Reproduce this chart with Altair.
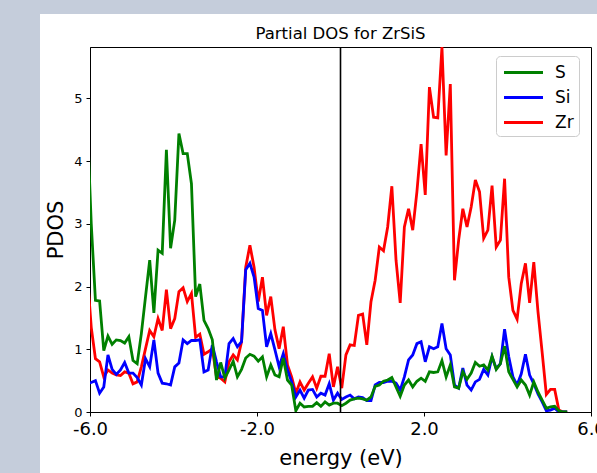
import altair as alt
import pandas as pd

# ---------------- data ----------------
ELEMENTS = ["S", "Si", "Zr"]
COLORS = ["#008000", "#0000ff", "#ff0000"]

E_START = -6.07   # first energy sample (eV); plot is clipped at -6
E_STEP = 0.1      # energy grid spacing (eV)

S_PDOS = [4.7,
          3.0, 1.78, 1.77, 0.98, 1.21, 1.08, 1.15, 1.14, 1.10, 1.20,
          0.82, 0.77, 1.25, 1.84, 2.42, 1.58, 2.58, 2.53, 4.18, 2.61,
          3.06, 4.44, 4.12, 4.12, 3.64, 1.84, 2.04, 1.46, 1.33, 1.15,
          0.51, 0.79, 0.54, 0.67, 0.81, 0.56, 0.68, 0.86, 0.92, 0.89,
          0.81, 0.88, 0.56, 0.75, 0.59, 0.56, 0.86, 0.51, 0.43, 0.02,
          0.14, 0.08, 0.09, 0.09, 0.15, 0.09, 0.16, 0.11, 0.14, 0.14,
          0.10, 0.14, 0.19, 0.21, 0.22, 0.21, 0.19, 0.24, 0.41, 0.43,
          0.49, 0.51, 0.55, 0.40, 0.25, 0.43, 0.51, 0.40, 0.49, 0.54,
          0.49, 0.64, 0.63, 0.64, 0.82, 0.56, 0.75, 0.40, 0.38, 0.64,
          0.52, 0.62, 0.79, 0.73, 0.75, 0.67, 0.89, 0.68, 0.77, 1.05,
          0.64, 0.52, 0.40, 0.51, 0.43, 0.27, 0.48, 0.32, 0.19, 0.06,
          0.08, 0.09, 0.02, 0.0, 0.0]

SI_PDOS = [0.45,
           0.47, 0.50, 0.30, 0.40, 0.91, 0.68, 0.60, 0.67, 0.79, 0.62,
           0.62, 0.55, 0.43, 0.85, 0.72, 1.15, 0.62, 0.46, 0.45, 0.43,
           0.72, 0.78, 1.15, 1.09, 1.14, 1.14, 1.15, 0.64, 0.67, 1.07,
           0.80, 0.56, 0.56, 1.09, 1.17, 1.04, 1.12, 2.27, 2.37, 2.15,
           1.65, 1.62, 1.04, 1.25, 0.99, 0.72, 0.93, 0.67, 0.48, 0.24,
           0.35, 0.22, 0.35, 0.36, 0.24, 0.30, 0.27, 0.45, 0.19, 0.30,
           0.20, 0.24, 0.27, 0.21, 0.24, 0.23, 0.18, 0.18, 0.43, 0.47,
           0.47, 0.49, 0.49, 0.46, 0.35, 0.56, 0.83, 0.91, 1.09, 1.12,
           0.80, 1.04, 1.01, 1.04, 1.41, 1.01, 0.91, 0.43, 0.38, 0.70,
           0.43, 0.35, 0.48, 0.52, 0.68, 0.59, 0.88, 0.69, 0.77, 1.32,
           0.88, 0.56, 0.43, 0.61, 0.92, 0.59, 0.45, 0.29, 0.16, 0.02,
           0.03, 0.06, 0.0, 0.0, 0.0]

ZR_PDOS = [2.25,
           1.35, 0.85, 0.80, 0.56, 0.67, 0.62, 0.59, 0.58, 0.64, 0.62,
           0.45, 0.48, 0.72, 1.01, 1.30, 1.20, 1.49, 1.30, 1.95, 1.33,
           1.49, 1.92, 1.98, 1.76, 1.89, 1.19, 1.24, 0.92, 0.96, 1.01,
           0.56, 0.54, 0.48, 0.80, 0.91, 0.83, 1.12, 2.31, 2.66, 2.31,
           1.76, 2.15, 1.54, 1.84, 1.31, 1.01, 1.36, 0.75, 0.56, 0.30,
           0.48, 0.35, 0.46, 0.56, 0.38, 0.57, 0.57, 0.93, 0.40, 0.72,
           0.38, 0.91, 1.07, 1.06, 1.54, 1.56, 1.07, 1.76, 2.10, 2.63,
           2.57, 2.95, 3.60, 2.42, 1.74, 2.95, 3.24, 2.90, 3.51, 4.27,
           3.46, 5.18, 4.70, 4.69, 5.82, 4.09, 5.23, 2.10, 2.74, 3.24,
           2.95, 3.27, 3.70, 3.51, 2.77, 2.90, 3.61, 2.63, 2.74, 3.72,
           2.15, 1.62, 1.48, 2.05, 2.37, 1.74, 2.39, 1.60, 0.95, 0.28,
           0.36, 0.36, 0.03, 0.0, 0.0]

X_TICKS = [-6.0, -2.0, 2.0, 6.0]
Y_TICKS = [0, 1, 2, 3, 4, 5]
X_RANGE = [-6.0, 6.0]
Y_MAX = 5.82
FERMI = [0.0]

# ---------------- build table ----------------
energy = [round(E_START + E_STEP * i, 2) for i in range(len(S_PDOS))]
rows = []
for el, vals in zip(ELEMENTS, [S_PDOS, SI_PDOS, ZR_PDOS]):
    for e, v in zip(energy, vals):
        rows.append({"energy": e, "pdos": v, "element": el})
df = pd.DataFrame(rows)

FONT = "DejaVu Sans"
W, H = 501, 365
BG = "#c5cddb"
LW = 2.8

x_scale = alt.Scale(domain=X_RANGE, nice=False, zero=False)
y_scale = alt.Scale(domain=[0, Y_MAX], nice=False, zero=False)

x_enc = alt.X(
    "energy:Q", scale=x_scale,
    axis=alt.Axis(values=X_TICKS, title="energy (eV)",
                  labelExpr="(datum.value < 0 ? '-' : '') + format(abs(datum.value), '.1f')",
                  labelFontSize=18, labelFont=FONT, labelColor="black",
                  labelPadding=4, tickSize=4, tickColor="black", tickWidth=1,
                  domainColor="black", domainWidth=1, grid=False,
                  titleFont=FONT, titleFontSize=21, titleFontWeight="normal",
                  titleColor="black", titlePadding=9, labelFlush=False,
                  labelOverlap=False))
y_enc = alt.Y(
    "pdos:Q", scale=y_scale,
    axis=alt.Axis(values=Y_TICKS, title="PDOS", format="d",
                  labelFontSize=13, labelFont=FONT, labelColor="black",
                  labelPadding=4, tickSize=4, tickColor="black", tickWidth=1,
                  domainColor="black", domainWidth=1, grid=False,
                  titleFont=FONT, titleFontSize=21, titleFontWeight="normal",
                  titleColor="black", titlePadding=7, labelFlush=False))

color = alt.Color(
    "element:N",
    scale=alt.Scale(domain=ELEMENTS, range=COLORS),
    legend=alt.Legend(title=None, orient="none", legendX=406, legendY=9,
                      symbolType="M-2,0H2", symbolSize=380, symbolOffset=11,
                      symbolStrokeWidth=LW, symbolFillColor="transparent",
                      labelFont=FONT, labelFontSize=17, labelColor="black",
                      labelOffset=20, padding=5, rowPadding=5,
                      fillColor="white", strokeColor="#cccccc",
                      cornerRadius=4, labelLimit=0))

base = alt.Chart(df)


def series(el):
    return base.transform_filter(alt.datum.element == el).mark_line(
        strokeWidth=LW, clip=True).encode(x=x_enc, y=y_enc, color=color)


dummy = pd.DataFrame({"a": [0]})
left_strip = alt.Chart(dummy).mark_rect(color=BG).encode(
    x=alt.value(-90), x2=alt.value(-50), y=alt.value(-47), y2=alt.value(H + 61))
top_strip = alt.Chart(dummy).mark_rect(color=BG).encode(
    x=alt.value(-90), x2=alt.value(W + 6), y=alt.value(-47), y2=alt.value(-33))

fermi = alt.Chart(pd.DataFrame({"e": FERMI})).mark_rule(
    color="black", strokeWidth=1.6).encode(x=alt.X("e:Q", scale=x_scale))

chart = alt.layer(
    left_strip, top_strip, series("Zr"), series("Si"), series("S"), fermi
).properties(
    width=W, height=H,
    title=alt.TitleParams("Partial DOS for ZrSiS", font=FONT, fontSize=16.5,
                          fontWeight="normal", color="black", offset=8,
                          baseline="alphabetic", dy=63, anchor="middle"),
    autosize=alt.AutoSizeParams(type="none"),
    padding={"left": 90, "top": 47, "right": 6, "bottom": 61},
    background="white",
).configure_view(stroke="black", strokeWidth=1)

chart.save("out.html", embed_options={"renderer": "svg", "actions": False})
